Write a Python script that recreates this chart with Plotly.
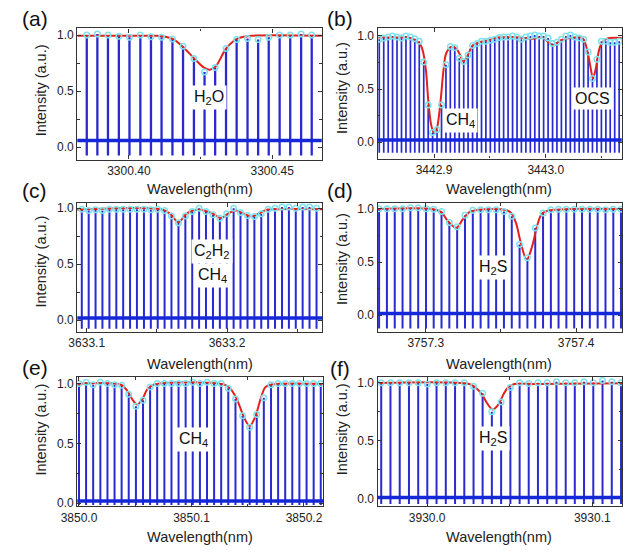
import plotly.graph_objects as go

W, H = 623, 552

# ---------------- data ----------------
# (a) H2O
a_comb_x = [3300.3853, 3300.3890, 3300.3927, 3300.3965, 3300.4002, 3300.4040, 3300.4077, 3300.4114,
            3300.4152, 3300.4189, 3300.4227, 3300.4264, 3300.4301, 3300.4339, 3300.4376, 3300.4414,
            3300.4451, 3300.4488, 3300.4526, 3300.4563, 3300.4601, 3300.4638]
a_comb_y = [1.0, 1.01, 1.0, 0.99, 0.98, 1.0, 0.985, 0.98, 0.965, 0.90, 0.79, 0.67,
            0.71, 0.88, 0.96, 0.97, 0.96, 0.98, 1.0, 1.0, 1.01, 1.0]
a_fit_x = [3300.382, 3300.4080, 3300.4119, 3300.4153, 3300.4187, 3300.4227, 3300.4264, 3300.4283,
           3300.4303, 3300.4340, 3300.4380, 3300.4425, 3300.4674]
a_fit_y = [0.993, 0.993, 0.99, 0.965, 0.897, 0.794, 0.706, 0.691, 0.72, 0.882, 0.97, 0.993, 0.993]
a_floor = 0.06

# (b) CH4 / OCS
b_comb_x = [3442.8510, 3442.8550, 3442.8590, 3442.8629, 3442.8669, 3442.8709, 3442.8749, 3442.8789,
            3442.8828, 3442.8868, 3442.8908, 3442.8948, 3442.8987, 3442.9027, 3442.9067, 3442.9107,
            3442.9146, 3442.9186, 3442.9226, 3442.9266, 3442.9305, 3442.9345, 3442.9385, 3442.9425,
            3442.9464, 3442.9504, 3442.9544, 3442.9584, 3442.9623, 3442.9663, 3442.9703, 3442.9743,
            3442.9782, 3442.9822, 3442.9862, 3442.9902, 3442.9941, 3442.9981, 3443.0021, 3443.0061,
            3443.0100, 3443.0140, 3443.0180, 3443.0220, 3443.0259, 3443.0299, 3443.0339, 3443.0379,
            3443.0418, 3443.0458, 3443.0498, 3443.0538, 3443.0577, 3443.0617, 3443.0657]
b_comb_y = [0.97, 0.98, 0.99, 1.0, 0.99, 0.98, 1.0, 0.99, 0.975, 0.95, 0.755, 0.35, 0.09, 0.12,
            0.35, 0.73, 0.90, 0.89, 0.79, 0.76, 0.82, 0.91, 0.93, 0.95, 0.95, 0.96, 0.97, 0.985,
            0.99, 0.99, 1.0, 0.99, 0.97, 0.99, 1.0, 1.01, 1.0, 1.0, 0.98, 0.93, 0.94, 0.97,
            1.0, 1.01, 0.99, 0.98, 0.97, 0.85, 0.60, 0.78, 0.95, 0.95, 0.94, 0.94, 0.95]
b_fit_x = [3442.850, 3442.870, 3442.8795, 3442.8882, 3442.8925, 3442.8948, 3442.8975, 3442.9003,
           3442.9030, 3442.9060, 3442.9085, 3442.9110, 3442.9160, 3442.9200, 3442.9235, 3442.9264,
           3442.9302, 3442.9345, 3442.9403, 3442.9476, 3442.9570, 3442.9737, 3442.9882, 3442.9969,
           3443.0026, 3443.0070, 3443.0128, 3443.0200, 3443.0330, 3443.0374, 3443.0403, 3443.0423,
           3443.0447, 3443.0490, 3443.0548, 3443.0693]
b_fit_y = [0.985, 0.985, 0.979, 0.91, 0.70, 0.40, 0.16, 0.08, 0.15, 0.40, 0.68, 0.84, 0.90,
           0.88, 0.818, 0.761, 0.818, 0.91, 0.94, 0.957, 0.985, 0.988, 0.975, 0.985, 0.94, 0.91,
           0.957, 0.979, 0.979, 0.85, 0.69, 0.60, 0.69, 0.91, 0.975, 0.98]
b_floor = 0.02

# (c) C2H2 / CH4
c_comb_x = [3633.0965, 3633.1014, 3633.1063, 3633.1112, 3633.1162, 3633.1211, 3633.1260, 3633.1309,
            3633.1358, 3633.1408, 3633.1457, 3633.1506, 3633.1555, 3633.1604, 3633.1654, 3633.1703,
            3633.1752, 3633.1801, 3633.1850, 3633.1900, 3633.1949, 3633.1998, 3633.2047, 3633.2096,
            3633.2146, 3633.2195, 3633.2244, 3633.2293, 3633.2342, 3633.2392, 3633.2441, 3633.2490,
            3633.2539, 3633.2588, 3633.2638]
c_comb_y = [0.99, 0.98, 0.985, 0.98, 0.99, 0.99, 0.99, 0.99, 0.99, 0.99, 0.985, 0.99, 0.98, 0.93,
            0.87, 0.93, 0.97, 1.0, 0.97, 0.94, 0.91, 0.95, 1.0, 0.96, 0.935, 0.925, 0.95, 0.99,
            1.0, 1.01, 1.01, 1.0, 1.01, 1.01, 1.0]
c_fit_x = [3633.093, 3633.1543, 3633.1600, 3633.1654, 3633.1704, 3633.1751, 3633.1808, 3633.1889,
           3633.1958, 3633.2016, 3633.2062, 3633.2109, 3633.2178, 3633.2236, 3633.2282, 3633.2351,
           3633.2693]
c_fit_y = [0.986, 0.986, 0.942, 0.874, 0.942, 0.977, 0.986, 0.957, 0.912, 0.957, 0.98, 0.957,
           0.927, 0.957, 0.986, 0.991, 0.991]
c_floor = 0.021

# (d) H2S
d_comb_x = [3757.2690, 3757.2742, 3757.2794, 3757.2846, 3757.2898, 3757.2950, 3757.3002, 3757.3053,
            3757.3105, 3757.3157, 3757.3209, 3757.3261, 3757.3313, 3757.3365, 3757.3417, 3757.3468,
            3757.3520, 3757.3572, 3757.3624, 3757.3676, 3757.3728, 3757.3780, 3757.3832, 3757.3883,
            3757.3935, 3757.3987, 3757.4039, 3757.4091, 3757.4143, 3757.4195, 3757.4247, 3757.4298]
d_comb_y = [1.0, 1.0, 1.0, 1.0, 1.01, 1.01, 1.0, 0.995, 0.975, 0.87, 0.83, 0.94, 0.985, 0.99,
            0.99, 0.99, 0.975, 0.93, 0.665, 0.54, 0.82, 0.96, 0.99, 0.995, 0.995, 0.995, 0.995,
            0.995, 0.995, 0.99, 0.995, 0.995]
d_fit_x = [3757.2665, 3757.3052, 3757.3105, 3757.3148, 3757.3202, 3757.3245, 3757.3288, 3757.3353,
           3757.3525, 3757.3568, 3757.3600, 3757.3632, 3757.3671, 3757.3708, 3757.3740, 3757.3772,
           3757.3826, 3757.3955, 3757.4310]
d_fit_y = [0.997, 0.995, 0.966, 0.882, 0.82, 0.897, 0.966, 0.99, 0.99, 0.96, 0.867, 0.681, 0.52,
           0.65, 0.836, 0.953, 0.985, 0.997, 0.997]
d_floor = 0.016

# (e) CH4
e_comb_x = [3850.0000, 3850.0063, 3850.0126, 3850.0190, 3850.0253, 3850.0316, 3850.0379, 3850.0442,
            3850.0506, 3850.0569, 3850.0632, 3850.0695, 3850.0759, 3850.0822, 3850.0885, 3850.0948,
            3850.1011, 3850.1075, 3850.1138, 3850.1201, 3850.1264, 3850.1327, 3850.1391, 3850.1454,
            3850.1517, 3850.1580, 3850.1643, 3850.1707, 3850.1770, 3850.1833, 3850.1896, 3850.1959,
            3850.2023, 3850.2086, 3850.2149]
e_comb_y = [1.0, 1.01, 0.99, 1.01, 1.0, 0.99, 0.985, 0.91, 0.81, 0.86, 0.97, 1.0, 1.0, 1.0, 1.0,
            1.0, 1.01, 1.0, 1.01, 1.0, 1.0, 0.96, 0.87, 0.73, 0.635, 0.74, 0.88, 0.99, 1.0, 1.0,
            1.0, 1.0, 1.0, 1.0, 1.0]
e_fit_x = [3849.9972, 3850.0375, 3850.0432, 3850.0475, 3850.0518, 3850.0561, 3850.0605, 3850.0662,
           3850.1295, 3850.1353, 3850.1411, 3850.1468, 3850.1517, 3850.1569, 3850.1612, 3850.1655,
           3850.1699, 3850.2174]
e_fit_y = [0.995, 0.989, 0.934, 0.865, 0.824, 0.865, 0.948, 0.989, 0.989, 0.948, 0.851, 0.714,
           0.645, 0.728, 0.865, 0.967, 0.989, 0.995]
e_floor = 0.018

# (f) H2S
f_comb_x = [3929.9722, 3929.9778, 3929.9834, 3929.9890, 3929.9946, 3930.0001, 3930.0057, 3930.0113,
            3930.0169, 3930.0225, 3930.0281, 3930.0336, 3930.0392, 3930.0448, 3930.0504, 3930.0560,
            3930.0615, 3930.0671, 3930.0727, 3930.0783, 3930.0839, 3930.0894, 3930.0950, 3930.1006,
            3930.1062, 3930.1118, 3930.1174]
f_comb_y = [1.0, 1.0, 1.0, 1.0, 1.0, 0.99, 1.0, 1.0, 1.0, 1.0, 0.97, 0.91, 0.75, 0.835, 0.96,
            1.0, 0.995, 1.0, 1.0, 1.01, 1.0, 1.0, 1.01, 1.0, 1.02, 1.01, 1.0]
f_fit_x = [3929.9683, 3930.0254, 3930.0293, 3930.0333, 3930.0362, 3930.0396, 3930.0431, 3930.0461,
           3930.0490, 3930.0529, 3930.0667, 3930.1190]
f_fit_y = [0.997, 0.989, 0.96, 0.898, 0.826, 0.77, 0.812, 0.898, 0.96, 0.989, 0.989, 0.997]
f_floor = 0.011

panel_letters = ["(a)", "(b)", "(c)", "(d)", "(e)", "(f)"]
gas_labels = [["H<sub>2</sub>O"], ["CH<sub>4</sub>", "OCS"], ["C<sub>2</sub>H<sub>2</sub>", "CH<sub>4</sub>"],
              ["H<sub>2</sub>S"], ["CH<sub>4</sub>"], ["H<sub>2</sub>S"]]
x_title = "Wavelength(nm)"
y_title = "Intensity (a.u.)"

# ---------------- styling / layout ----------------
FONT = "Liberation Sans, Arial, sans-serif"
COMB = "#2a2ad0"
FLOOR = "#1428d8"
RED = "#e3211c"
CYAN = "#7fe2ec"
FRAME = "#333333"

panels = [
    dict(cx=a_comb_x, cy=a_comb_y, fx=a_fit_x, fy=a_fit_y, floor=a_floor, bottom=-0.075,
         box=(62, 313.3, 26.7, 159.3), xr=[3300.382, 3300.4673], yr=[-0.111, 1.059],
         dt=0.05, t0=3300.40, fmt=".2f", lw=2.3),
    dict(cx=b_comb_x, cy=b_comb_y, fx=b_fit_x, fy=b_fit_y, floor=b_floor, bottom=-0.10,
         box=(370.7, 621.7, 26, 158.3), xr=[3442.8495, 3443.068], yr=[-0.155, 1.078],
         dt=0.1, t0=3442.9, fmt=".1f", lw=1.7),
    dict(cx=c_comb_x, cy=c_comb_y, fx=c_fit_x, fy=c_fit_y, floor=c_floor, bottom=-0.075,
         box=(62, 314, 203.3, 333.3), xr=[3633.0933, 3633.268], yr=[-0.102, 1.045],
         dt=0.1, t0=3633.1, fmt=".1f", lw=2.0),
    dict(cx=d_comb_x, cy=d_comb_y, fx=d_fit_x, fy=d_fit_y, floor=d_floor, bottom=-0.125,
         box=(370.7, 622, 203.3, 333.3), xr=[3757.268, 3757.4305], yr=[-0.154, 1.053],
         dt=0.1, t0=3757.3, fmt=".1f", lw=2.0),
    dict(cx=e_comb_x, cy=e_comb_y, fx=e_fit_x, fy=e_fit_y, floor=e_floor, bottom=-0.015,
         box=(62, 314.7, 379, 510), xr=[3849.9985, 3850.217], yr=[-0.027, 1.055],
         dt=0.1, t0=3850.0, fmt=".1f", lw=2.0),
    dict(cx=f_comb_x, cy=f_comb_y, fx=f_fit_x, fy=f_fit_y, floor=f_floor, bottom=-0.045,
         box=(370.7, 622, 379, 510), xr=[3929.970, 3930.118], yr=[-0.066, 1.051],
         dt=0.1, t0=3930.0, fmt=".1f", lw=2.0),
]

fig = go.Figure()
shapes = []
annotations = []

def px(x):
    return x / W

def py(y):
    return 1 - y / H

for k, p in enumerate(panels):
    n = "" if k == 0 else str(k + 1)
    xa, ya = "x" + n, "y" + n
    # comb lines
    X, Y = [], []
    for x, v in zip(p["cx"], p["cy"]):
        X += [x, x, None]
        Y += [p["bottom"], v, None]
    fig.add_trace(go.Scatter(x=X, y=Y, mode="lines", line=dict(color=COMB, width=p["lw"]),
                             xaxis=xa, yaxis=ya, showlegend=False, hoverinfo="skip"))
    # noise floor line
    shapes.append(dict(type="line", xref=xa + " domain", yref=ya, x0=0, x1=1,
                       y0=p["floor"], y1=p["floor"], line=dict(color=FLOOR, width=3.5), layer="above"))
    # fit
    fig.add_trace(go.Scatter(x=p["fx"], y=p["fy"], mode="lines", line=dict(color=RED, width=2, shape="spline", smoothing=0.9),
                             xaxis=xa, yaxis=ya, showlegend=False, hoverinfo="skip"))
    # measured points
    fig.add_trace(go.Scatter(x=p["cx"], y=p["cy"], mode="markers",
                             marker=dict(symbol="circle-open", size=5.5, color=CYAN, line=dict(width=1.5, color=CYAN)),
                             xaxis=xa, yaxis=ya, showlegend=False, hoverinfo="skip"))

    x0, x1, y0, y1 = p["box"]
    axis_common = dict(showline=True, linecolor=FRAME, linewidth=1.3, mirror="allticks",
                       ticks="inside", ticklen=4, tickcolor=FRAME, tickwidth=1.1,
                       showgrid=False, zeroline=False,
                       tickfont=dict(family=FONT, size=12, color="#222"))
    fig.layout["xaxis" + n] = dict(axis_common, domain=[px(x0), px(x1)], range=p["xr"],
                                   anchor=ya, tickmode="linear", tick0=p["t0"], dtick=p["dt"],
                                   tickformat=p["fmt"],
                                   minor=dict(dtick=p["dt"] / 2, tick0=p["t0"], ticks="inside", ticklen=2.5,
                                              tickcolor=FRAME, showgrid=False))
    fig.layout["yaxis" + n] = dict(axis_common, domain=[py(y1), py(y0)], range=p["yr"],
                                   anchor=xa, tickmode="array", tickvals=[0, 0.5, 1.0],
                                   ticktext=["0.0", "0.5", "1.0"],
                                   minor=dict(tickvals=[0.25, 0.75], ticks="inside", ticklen=2.5,
                                              tickcolor=FRAME, showgrid=False))

# panel letters
letter_pos = [(18, 17), (332, 17), (18, 191), (332, 191), (18, 370), (332, 371)]
for t, (x, y) in zip(panel_letters, letter_pos):
    annotations.append(dict(text=t, x=px(x), y=py(y), xref="paper", yref="paper", showarrow=False,
                            xanchor="center", yanchor="middle", font=dict(family=FONT, size=21, color="#111")))

# axis titles
xt_pos = [(188, 189), (496, 189), (188, 366), (496, 366), (188, 541), (496, 541)]
for (x, y) in xt_pos:
    annotations.append(dict(text=x_title, x=px(x), y=py(y), xref="paper", yref="paper", showarrow=False,
                            xanchor="center", yanchor="middle", font=dict(family=FONT, size=14.5, color="#222")))
yt_pos = [(25, 89), (334, 87), (25, 262), (334, 260), (25, 432), (334, 432)]
for (x, y) in yt_pos:
    annotations.append(dict(text=y_title, x=px(x), y=py(y), xref="paper", yref="paper", showarrow=False,
                            textangle=-90, xanchor="center", yanchor="middle",
                            font=dict(family=FONT, size=14.5, color="#222")))

# gas labels
gas_pos = [[(197, 97)], [(456, 120), (592, 98)], [(200, 252), (201, 277)], [(489, 268)], [(181, 442)], [(489, 441)]]
for labels, poss in zip(gas_labels, gas_pos):
    for t, (x, y) in zip(labels, poss):
        annotations.append(dict(text=t, x=px(x), y=py(y), xref="paper", yref="paper", showarrow=False,
                                xanchor="center", yanchor="middle", bgcolor="white", borderpad=2,
                                font=dict(family=FONT, size=16, color="#111")))

fig.update_layout(width=W, height=H, margin=dict(l=0, r=0, t=0, b=0),
                  paper_bgcolor="white", plot_bgcolor="white",
                  shapes=shapes, annotations=annotations, showlegend=False)

fig.write_html("out.html")
